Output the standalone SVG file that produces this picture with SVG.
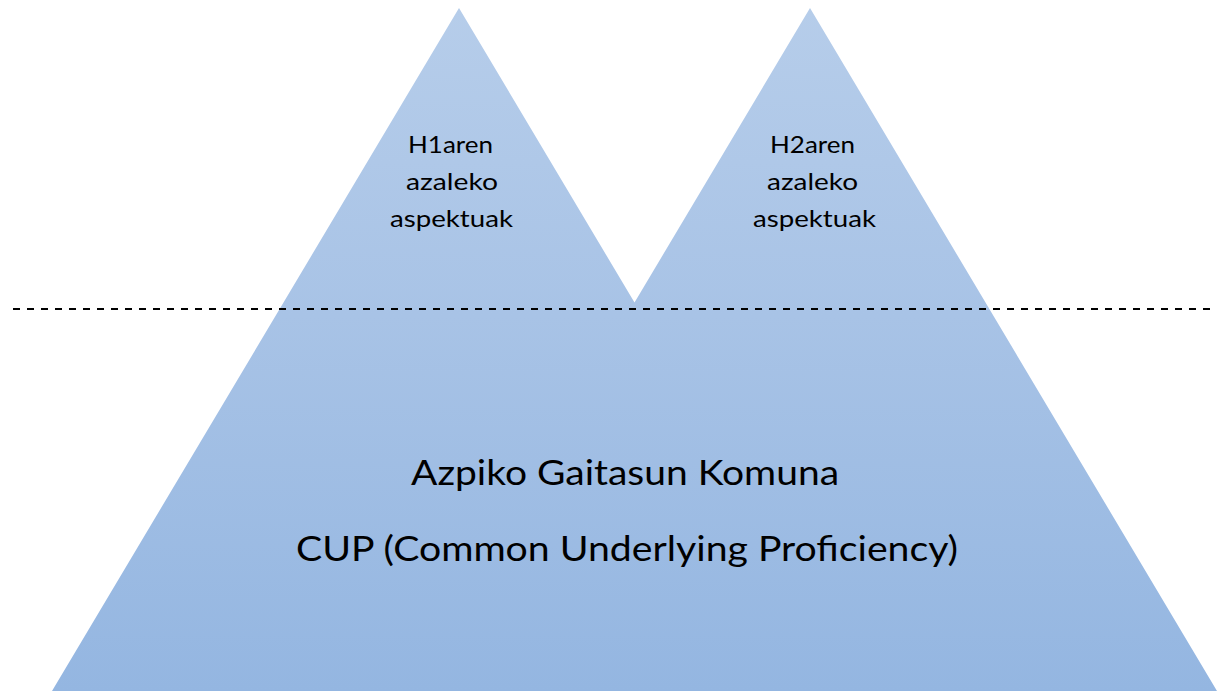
<svg xmlns="http://www.w3.org/2000/svg" width="1217" height="691" viewBox="0 0 1217 691">
<style>
.t{font-family:Lato,"Liberation Sans",sans-serif;fill:#000;text-anchor:middle}
.s{font-size:24px}
.b{font-size:35px}
</style>
<defs>
<linearGradient id="g" x1="0" y1="8" x2="0" y2="691" gradientUnits="userSpaceOnUse">
<stop offset="0" stop-color="#b6cdea"/>
<stop offset="0.45" stop-color="#a8c3e6"/>
<stop offset="1" stop-color="#94b6e1"/>
</linearGradient>
</defs>
<rect width="1217" height="691" fill="#fff"/>
<g id="mountains">
<polygon points="52,691 459,8 634.5,302.5 810,8 1217,691" fill="url(#g)"/>
</g>
<g id="connectors">
<line x1="13" y1="309" x2="1212" y2="309" stroke="#000" stroke-width="2.2" stroke-dasharray="7,7"/>
</g>
<g id="h1">
<text class="t s" x="450.5" y="153" textLength="85" lengthAdjust="spacingAndGlyphs">H1aren</text>
<text class="t s" x="452" y="190" textLength="92" lengthAdjust="spacingAndGlyphs">azaleko</text>
<text class="t s" x="451.5" y="227" textLength="123" lengthAdjust="spacingAndGlyphs">aspektuak</text>
</g>
<g id="h2">
<text class="t s" x="812.5" y="153" textLength="85" lengthAdjust="spacingAndGlyphs">H2aren</text>
<text class="t s" x="812.5" y="190" textLength="91" lengthAdjust="spacingAndGlyphs">azaleko</text>
<text class="t s" x="814.5" y="227" textLength="123" lengthAdjust="spacingAndGlyphs">aspektuak</text>
</g>
<g id="cup">
<text class="t b" x="625" y="485" textLength="428" lengthAdjust="spacingAndGlyphs">Azpiko Gaitasun Komuna</text>
<text class="t b" x="627" y="561" textLength="662" lengthAdjust="spacingAndGlyphs">CUP (Common Underlying Proficiency)</text>
</g>
</svg>
